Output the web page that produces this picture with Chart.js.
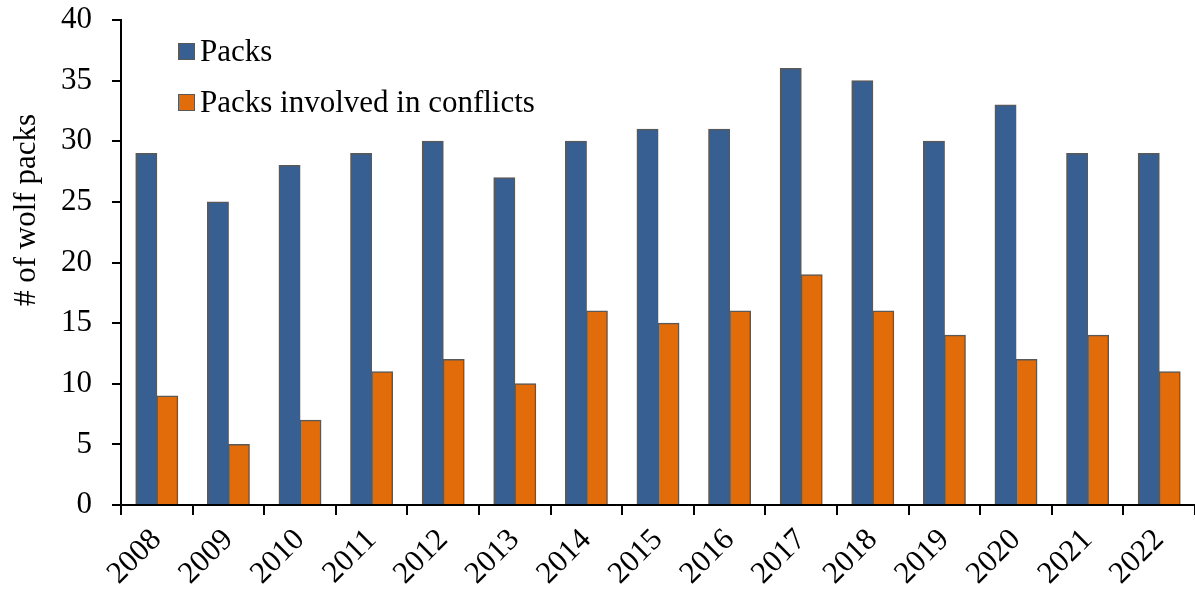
<!DOCTYPE html>
<html>
<head>
<meta charset="utf-8">
<script src="https://cdn.jsdelivr.net/npm/chart.js@4/dist/chart.umd.min.js"></script>
<style>
  html, body { margin: 0; padding: 0; background: #fff; }
  #wrap { position: relative; width: 1195px; height: 592px; }
  #legend { position: absolute; left: 178px; top: 36px; font-family: "Liberation Serif", "Times New Roman", serif; font-size: 31px; color: #000; }
  .item { display: flex; align-items: center; height: 30px; line-height: 30px; margin-bottom: 21px; white-space: nowrap; }
  .sw { width: 17px; height: 17px; box-sizing: border-box; border: 1.5px solid #595959; margin-right: 5px; }
</style>
</head>
<body>
<div id="wrap">
  <canvas id="c" width="1195" height="592"></canvas>
  <div id="legend"></div>
</div>
<script>
const years = ['2008','2009','2010','2011','2012','2013','2014','2015','2016','2017','2018','2019','2020','2021','2022'];
const packs = [29, 25, 28, 29, 30, 27, 30, 31, 31, 36, 35, 30, 33, 29, 29];
const conflictPacks = [9, 5, 7, 11, 12, 10, 16, 15, 16, 19, 16, 14, 12, 14, 11];
const yTicks = [0, 5, 10, 15, 20, 25, 30, 35, 40];

const seriesNames = ['Packs', 'Packs involved in conflicts'];
const seriesColors = ['#375F91', '#E36C0A'];
const yTitle = '# of wolf packs';

const fontFamily = '"Liberation Serif", "Times New Roman", serif';
const font = { family: fontFamily, size: 31 };

// y-axis title, drawn rotated beside the tick labels
const yTitlePlugin = {
  id: 'yTitle',
  afterDraw(chart) {
    const ctx = chart.ctx;
    ctx.save();
    ctx.translate(27, 210);
    ctx.rotate(-Math.PI / 2);
    ctx.font = '31px ' + fontFamily;
    ctx.fillStyle = '#000';
    ctx.textAlign = 'center';
    ctx.textBaseline = 'middle';
    ctx.fillText(yTitle, 0, 0);
    ctx.restore();
  }
};

new Chart(document.getElementById('c'), {
  type: 'bar',
  data: {
    labels: years,
    datasets: [
      { label: seriesNames[0], data: packs, backgroundColor: seriesColors[0], borderColor: '#595959', borderWidth: 1.5, inflateAmount: 0.5 },
      { label: seriesNames[1], data: conflictPacks, backgroundColor: seriesColors[1], borderColor: '#595959', borderWidth: 1.5, inflateAmount: 0.5 }
    ]
  },
  options: {
    responsive: false,
    animation: false,
    layout: { padding: { top: 20, right: 0, left: 41, bottom: 0 } },
    datasets: { bar: { categoryPercentage: 0.585, barPercentage: 1.0 } },
    plugins: { legend: { display: false }, tooltip: { enabled: false } },
    scales: {
      x: {
        afterFit: s => { s.height = 87; },
        grid: { display: true, drawOnChartArea: false, offset: true, tickLength: 10, color: '#000', lineWidth: 2 },
        border: { color: '#000', width: 2 },
        ticks: { color: '#000', font: font, maxRotation: 45, minRotation: 45, padding: 7 }
      },
      y: {
        min: 0, max: 40,
        afterBuildTicks: s => { s.ticks = yTicks.map(v => ({ value: v })); },
        afterFit: s => { s.paddingTop = 0; s.paddingBottom = 0; },
        grid: { display: true, drawOnChartArea: false, tickLength: 9, color: '#000', lineWidth: 2 },
        border: { color: '#000', width: 2 },
        ticks: { color: '#000', font: font, padding: 20 }
      }
    }
  },
  plugins: [yTitlePlugin]
});

const lg = document.getElementById('legend');
seriesNames.forEach((n, i) => {
  const d = document.createElement('div');
  d.className = 'item';
  d.innerHTML = '<span class="sw" style="background:' + seriesColors[i] + '"></span><span>' + n + '</span>';
  lg.appendChild(d);
});
</script>
</body>
</html>
